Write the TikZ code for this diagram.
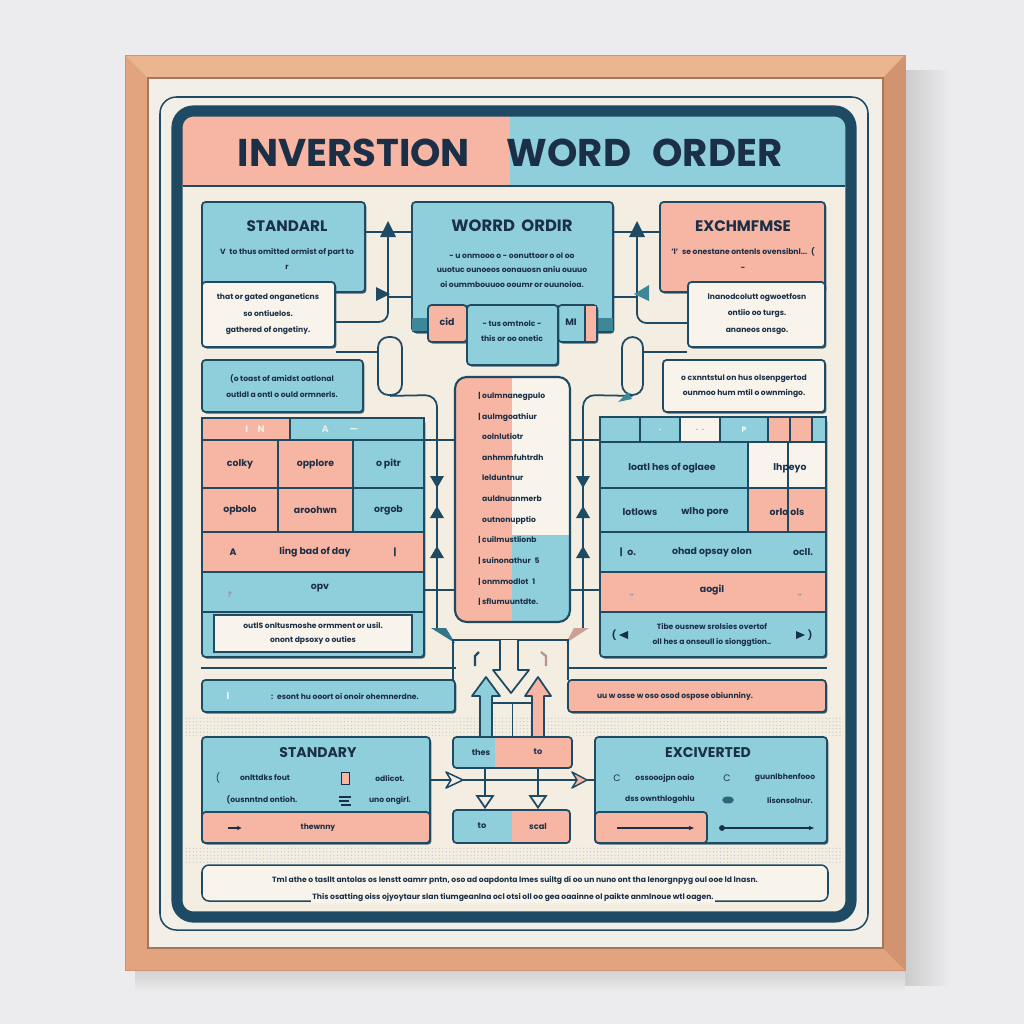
\documentclass[tikz,border=0pt]{standalone}
\usepackage{fontspec}
\setmainfont{Poppins}
\usetikzlibrary{fit,shadows,patterns,arrows.meta}

\definecolor{navy}{HTML}{1F4A63}
\definecolor{ink}{HTML}{1B3047}
\definecolor{salmon}{HTML}{F7B5A3}
\definecolor{aqua}{HTML}{8FCFDB}
\definecolor{cream}{HTML}{F4EEE2}
\definecolor{note}{HTML}{F8F4EC}
\definecolor{paper}{HTML}{F2EEE8}
\definecolor{wall}{HTML}{ECEBEE}
\definecolor{wood}{HTML}{E2A47F}
\definecolor{woodlight}{HTML}{EBB590}
\definecolor{wooddark}{HTML}{D29470}
\definecolor{teal}{HTML}{3E8798}

\tikzset{
  flatpanel/.style={draw=navy, line width=1.5pt, rounded corners=3pt, inner sep=0pt},
  panel/.style={flatpanel,
    drop shadow={shadow xshift=1.2pt, shadow yshift=-1.4pt, fill=navy, opacity=0.85}},
  bluepanel/.style={panel, fill=aqua},
  pinkpanel/.style={panel, fill=salmon},
  notepanel/.style={panel, fill=note},
  cell/.style={draw=navy, line width=1.1pt, inner sep=0pt},
  wire/.style={draw=navy, line width=1.5pt},
  heading/.style={font=\bfseries\fontsize{13}{14}\selectfont, text=ink, inner sep=0pt},
  cellfont/.style={font=\bfseries\fontsize{8}{9}\selectfont, text=ink, inner sep=0pt},
  fine/.style={font=\bfseries\fontsize{6.5}{13}\selectfont, text=ink, inner sep=0pt, align=center},
}

\begin{document}
\begin{tikzpicture}[x=0.3mm, y=-0.3mm]
\useasboundingbox (0,0) rectangle (1024,1024);

% wall, shadow and wooden frame
\fill[wall] (0,0) rectangle (1024,1024);
\shade[left color=black!20, right color=wall] (905,70) rectangle (950,985);
\shade[top color=black!18, bottom color=wall] (135,970) rectangle (905,992);
\fill[wood] (125,55) rectangle (905,970);
\fill[woodlight] (125,55) -- (905,55) -- (883,78) -- (148,78) -- cycle;
\fill[wooddark] (905,55) -- (905,970) -- (883,948) -- (883,78) -- cycle;
\draw[wooddark, line width=0.8pt] (125,55) rectangle (905,970);
\fill[paper] (148,78) rectangle (883,948);
\draw[wooddark!80!black, line width=1pt] (148,78) rectangle (883,948);

% poster borders and title band
\draw[navy, line width=1.3pt, rounded corners=14pt] (160,97) rectangle (868,930);
\begin{scope}
  \clip[rounded corners=14pt] (177,111) rectangle (851,917);
  \fill[cream] (177,111) rectangle (851,917);
  \fill[salmon] (177,111) rectangle (510,186);
  \fill[aqua] (510,111) rectangle (851,186);
\end{scope}
\draw[navy, line width=1.2pt] (183,186) -- (845,186);
\draw[navy, line width=9.5pt, rounded corners=14pt] (177,111) rectangle (851,917);
\node[font=\bfseries\fontsize{33}{36}\selectfont, text=ink] (title) at (510,153)
  {INVERSTION\hspace{0.95em}WORD\hspace{0.55em}ORDER};

% halftone bands
\fill[pattern=dots, pattern color=ink!30] (185,716) rectangle (843,735);
\fill[pattern=dots, pattern color=ink!30] (185,846) rectangle (843,862);

% junction points
\coordinate (jl) at (388,232);
\coordinate (jl2) at (388,297);
\coordinate (jl3) at (388,322);
\coordinate (jr) at (637,232);
\coordinate (jr2) at (637,297);
\coordinate (jr3) at (637,323);
\coordinate (kl) at (437,395);
\coordinate (kl2) at (437,630);
\coordinate (kr) at (583,395);
\coordinate (kr2) at (583,630);
\coordinate (h1) at (0,440);
\coordinate (h2) at (0,590);
\coordinate (h3) at (0,668);
\coordinate (h4) at (0,780);
\coordinate (h5) at (0,352);
\coordinate (h6) at (0,703);
\coordinate (v1) at (485,0);
\coordinate (v2) at (538,0);

% top row
\node[bluepanel, fit={(202,202) (365,292)}] (std) {};
\node[heading] (stdhead) at (287,226) {STANDARL};
\node[fine] (stdtxt) at (287,259) {V\enspace to thus omitted ormist of part to\\ r};
\node[notepanel, fit={(202,282) (335,347)}] (stdnote) {};
\node[fine, font=\bfseries\fontsize{6.5}{14}\selectfont] (stdnotetxt) at (268,314) {that or gated onganeticns\\ so ontiuelos.\\ gathered of ongetiny.};
\node[bluepanel, fit={(202,360) (363,412)}] (lnote) {};
\node[fine] (lnotetxt) at (282,386) {(o toast of amidst oatlonal\\ outldl a ontl o ould ormnerls.};

\node[bluepanel, fit={(412,202) (613,332)}] (wo) {};
\node[heading, font=\bfseries\fontsize{14}{15}\selectfont] (wohead) at (512,226) {WORRD\hspace{0.4em}ORDIR};
\node[fine, font=\bfseries\fontsize{6.5}{12.3}\selectfont] (wotxt) at (512,270) {- u onmooo o - oonuttoor o ol oo\\ uuotuc ounoeos oonauosn aniu ouuuo\\ oi oummbouuoo ooumr or ouunoioa.};
\fill[teal] (412,318) rectangle (428,331);
\fill[teal] (597,318) rectangle (613,331);
\node[pinkpanel, fit={(428,305) (467,342)}] (taba) {};
\node[cellfont] (tabatxt) at (447,322) {cid};
\node[bluepanel, fit={(558,305) (597,342)}] (tabc) {};
\fill[salmon] (585,306) rectangle (596,341);
\draw[navy, line width=1.1pt] (585,305) -- (585,342);
\node[cellfont] (tabctxt) at (571,322) {MI};
\node[bluepanel, fit={(467,305) (558,365)}] (tabb) {};
\node[fine] (tabbtxt) at (512,331) {- tus omtnolc -\\ this or oo onetic};

\node[pinkpanel, fit={(660,202) (825,292)}] (exc) {};
\node[heading] (exchead) at (743,226) {EXCHMFMSE};
\node[fine] (exctxt) at (743,259) {'l'\enspace se onestane ontenls ovensibnl...\enspace (\\ -};
\node[notepanel, fit={(688,282) (825,347)}] (excnote) {};
\node[fine, font=\bfseries\fontsize{6.5}{14}\selectfont] (excnotetxt) at (757,314) {lnanodcolutt ogwoetfosn\\ ontiio oo turgs.\\ ananeos onsgo.};
\node[notepanel, fit={(663,360) (825,412)}] (rnote) {};
\node[fine] (rnotetxt) at (744,386) {o cxnntstul on hus olsenpgertod\\ ounmoo hum mtil o ownmingo.};

% top connectors
\draw[wire] (jl -| std.east) -- (jl -| wo.west);
\draw[wire, rounded corners=8pt] (jl) -- (jl3) -- (jl3 -| stdnote.east);
\draw[wire] (jl2) -- (jl2 -| wo.west);
\draw[wire] (jr -| wo.east) -- (jr -| exc.west);
\draw[wire, rounded corners=8pt] (jr) -- (jr3) -- (jr3 -| excnote.west);
\draw[wire] (jr2 -| wo.east) -- (jr2);
\fill[navy] (380,237) -- (396,237) -- (388,221) -- cycle;
\fill[navy] (629,237) -- (645,237) -- (637,221) -- cycle;
\fill[navy] (376,287) -- (390,294) -- (376,301) -- cycle;
\fill[teal] (649,285) -- (634,294) -- (649,301) -- cycle;

% loops down to the tables
\node[draw=navy, line width=1.5pt, rounded corners=9pt, fill=cream, inner sep=0pt, fit={(378,337) (402,395)}] (capL) {};
\node[draw=navy, line width=1.5pt, rounded corners=9pt, fill=cream, inner sep=0pt, fit={(622,337) (643,395)}] (capR) {};
\draw[wire] (h5 -| stdnote.east) -- (h5 -| capL.west);
\draw[wire] (h5 -| capR.east) -- (h5 -| excnote.west);
\draw[wire, rounded corners=10pt] (capL.south) -- (kl) -- (kl2);
\draw[wire, rounded corners=10pt] (capR.south) -- (kr) -- (kr2);
\fill[teal] (628,392) -- (618,402) -- (632,399) -- cycle;
\foreach \x in {437,583} {
  \fill[navy] (\x-7,476) -- (\x+7,476) -- (\x,488) -- cycle;
  \fill[navy] (\x-7,518) -- (\x+7,518) -- (\x,506) -- cycle;
  \fill[navy] (\x-7,558) -- (\x+7,558) -- (\x,546) -- cycle;
}
\fill[teal!70!navy] (431,628) -- (446,628) -- (455,643) -- cycle;
\fill[salmon!80!navy] (589,628) -- (574,628) -- (566,643) -- cycle;

% centre column
\begin{scope}
  \clip[rounded corners=10pt] (455,377) rectangle (570,622);
  \fill[salmon] (455,377) rectangle (512,622);
  \fill[note] (512,377) rectangle (570,535);
  \fill[aqua] (512,535) rectangle (570,622);
\end{scope}
\node[draw=navy, line width=1.8pt, rounded corners=10pt, inner sep=0pt, fit={(455,377) (570,622)}] (col) {};
\node[fine, align=left, anchor=north west, font=\bfseries\fontsize{6.5}{17.6}\selectfont] (coltxt) at (482,392)
  {\llap{|\ }oulmnanegpulo\\ \llap{|\ }aulmgoathiur\\ oolnlutiotr\\ anhmmfuhtrdh\\ lelduntnur\\ auldnuanmerb\\ outnonupptio\\ \llap{|\ }cuilmustlionb\\ \llap{|\ }suinonathur\enspace 5\\ \llap{|\ }onmmodlot\enspace 1\\ \llap{|\ }sflumuuntdte.};

% left table
\node[bluepanel, fit={(202,418) (424,657)}] (ltab) {};
\node[cell, fill=salmon, fit={(202,418) (290,440)}] (lh1) {};
\node[cell, fill=aqua, fit={(290,418) (424,440)}] (lh2) {};
\node[cellfont, text=white!75!salmon] (lh1txt) at (255,429) {I\quad N};
\node[cellfont, text=white!70!aqua] (lh2txt) at (340,429) {A\qquad\ ---};
\node[cell, fill=salmon, fit={(202,440) (278,488)}] (l11) {};
\node[cell, fill=salmon, fit={(278,440) (353,488)}] (l12) {};
\node[cell, fill=aqua, fit={(353,440) (424,488)}] (l13) {};
\node[cell, fill=salmon, fit={(202,488) (278,532)}] (l21) {};
\node[cell, fill=salmon, fit={(278,488) (353,532)}] (l22) {};
\node[cell, fill=aqua, fit={(353,488) (424,532)}] (l23) {};
\node[cell, fill=salmon, fit={(202,532) (424,572)}] (l3) {};
\node[cell, fill=aqua, fit={(202,572) (424,612)}] (l4) {};
\node[cellfont] at (l11) {colky};
\node[cellfont] at (l12) {opplore};
\node[cellfont] at (l13) {o pitr};
\node[cellfont] at (l21) {opbolo};
\node[cellfont] at (l22) {aroohwn};
\node[cellfont] at (l23) {orgob};
\node[cellfont] (l3a) at (233,552) {A};
\node[cellfont] (l3b) at (315,552) {ling bad of day};
\node[cellfont] (l3c) at (395,552) {|};
\node[cellfont] (l4a) at (320,588) {opv};
\node[fine, text=ink!50] (l4b) at (230,595) {?};
\node[cell, fill=note, line width=1.3pt, fit={(214,615) (412,652)}] (l5) {};
\node[fine, font=\bfseries\fontsize{6.5}{12}\selectfont] (l5txt) at (l5) {outlS onltusmoshe ormment or usil.\\ onont dpsoxy o outies};

% right table
\node[bluepanel, fit={(600,417) (826,657)}] (rtab) {};
\node[cell, fill=aqua, fit={(600,417) (640,442)}] (rh1) {};
\node[cell, fill=aqua, fit={(640,417) (680,442)}] (rh2) {};
\node[cell, fill=note, fit={(680,417) (720,442)}] (rh3) {};
\node[cell, fill=aqua, fit={(720,417) (768,442)}] (rh4) {};
\node[cell, fill=salmon, fit={(768,417) (790,442)}] (rh5) {};
\node[cell, fill=salmon, fit={(790,417) (812,442)}] (rh6) {};
\node[cell, fill=aqua, fit={(812,417) (826,442)}] (rh7) {};
\node[fine, text=white] at (rh2) {.};
\node[fine, text=ink!40] at (rh3) {.\enspace .};
\node[fine, text=white] at (rh4) {P};
\node[cell, fill=aqua, fit={(600,442) (748,488)}] (r11) {};
\node[cell, fill=note, fit={(748,442) (826,488)}] (r12) {};
\node[cell, fill=aqua, fit={(600,488) (748,532)}] (r21) {};
\node[cell, fill=salmon, fit={(748,488) (826,532)}] (r22) {};
\draw[navy, line width=1.1pt] (788,442) -- (788,532);
\node[cell, fill=aqua, fit={(600,532) (826,572)}] (r3) {};
\node[cell, fill=salmon, fit={(600,572) (826,612)}] (r4) {};
\node[cellfont] at (672,468) {loatl hes of oglaee};
\node[cellfont] at (790,468) {lhpeyo};
\node[cellfont] at (640,512) {lotlows};
\node[cellfont] at (705,512) {wlho pore};
\node[cellfont] at (787,512) {orlo ols};
\node[cellfont] (r3a) at (628,552) {|\enspace o.};
\node[cellfont] (r3b) at (712,552) {ohad opsay olon};
\node[cellfont] (r3c) at (803,552) {ocll.};
\node[cellfont] (r4a) at (712,590) {aogil};
\node[fine, text=ink!50] at (632,597) {''};
\node[fine, text=ink!50] at (800,597) {''};
\node[cellfont] (r5a) at (614,635) {(};
\fill[ink] (619,635) -- (628,631) -- (628,639) -- cycle;
\node[cellfont] (r5b) at (810,635) {)};
\fill[ink] (805,635) -- (796,631) -- (796,639) -- cycle;
\node[fine, font=\bfseries\fontsize{6.5}{12}\selectfont] (r5txt) at (712,635) {Tibe ousnew srolsies overtof\\ oll hes a onseull io sionggtion..};

% table to column links
\draw[wire] (h1 -| ltab.east) -- (h1 -| col.west);
\draw[wire] (h2 -| ltab.east) -- (h2 -| col.west);
\draw[wire] (h1 -| col.east) -- (h1 -| rtab.west);
\draw[wire] (h2 -| col.east) -- (h2 -| rtab.west);

% middle bars
\node[bluepanel, fit={(202,680) (455,712)}] (lbar) {};
\node[fine, text=white] at (228,696) {|};
\node[fine] (lbartxt) at (345,696) {:\enspace esont hu ooort oi onoir ohemnerdne.};
\node[pinkpanel, fit={(568,680) (826,712)}] (rbar) {};
\node[fine] (rbartxt) at (675,696) {uu w osse w oso osod ospose obiunniny.};
\draw[wire] (h3 -| lbar.west) -- (h3 -| lbar.east);
\draw[wire] (h3 -| rbar.west) -- (h3 -| rbar.east);
\draw[wire] (453,680) -- (453,640) -- (568,640) -- (568,680);

% central arrows
\draw[navy, line width=1.5pt, fill=cream, line join=round] (500,640) -- (500,670) -- (493,670) -- (511,693) -- (529,670) -- (518,670) -- (518,640);
\draw[navy, line width=1.5pt, fill=aqua, line join=round] (480,737) -- (480,696) -- (472,696) -- (486,677) -- (500,696) -- (492,696) -- (492,737);
\draw[navy, line width=1.5pt, fill=salmon, line join=round] (532,737) -- (532,696) -- (525,696) -- (538,677) -- (551,696) -- (544,696) -- (544,737);
\draw[navy, line width=2pt] (479,652) -- (475,656) -- (475,666);
\draw[salmon!70!navy, line width=2pt] (541,652) -- (546,656) -- (546,666);

% lower row
\node[bluepanel, fit={(202,737) (430,843)}] (sty) {};
\node[flatpanel, fill=salmon, fit={(202,812) (430,843)}] (stybase) {};
\node[heading, font=\bfseries\fontsize{12}{13}\selectfont] (styhead) at (318,753) {STANDARY};
\node[cellfont, font=\fontsize{8}{9}\selectfont] at (218,778) {(};
\node[fine] at (265,778) {onlttdks fout};
\draw[ink, fill=salmon, line width=0.8pt] (341,772) rectangle (349,784);
\node[fine] at (390,778) {odlicot.};
\node[fine] at (262,800) {(ousnntnd ontioh.};
\draw[ink, line width=1.2pt] (339,797) -- (351,797) (339,801) -- (349,801) (341,805) -- (351,805);
\node[fine] at (390,800) {uno ongirl.};
\draw[ink, line width=1.2pt, -{Latex[length=4pt, width=4pt]}] (228,828) -- (242,828);
\node[fine] at (318,828) {thewnny};

\node[bluepanel, fit={(595,737) (827,843)}] (exv) {};
\node[flatpanel, fill=salmon, fit={(595,812) (707,843)}] (exvbase) {};
\node[heading, font=\bfseries\fontsize{12}{13}\selectfont] (exvhead) at (708,753) {EXCIVERTED};
\node[cellfont, font=\fontsize{8}{9}\selectfont] at (617,778) {C};
\node[fine] at (665,778) {ossooojpn oaio};
\node[cellfont, font=\fontsize{8}{9}\selectfont] at (727,778) {C};
\node[fine] at (785,778) {guunlbhenfooo};
\node[fine] at (660,800) {dss ownthlogohlu};
\fill[teal!60!ink] (728,800) ellipse [x radius=5pt, y radius=3pt];
\node[fine] at (790,800) {lisonsolnur.};
\draw[ink, line width=1pt, -{Latex[length=5pt]}] (617,828) -- (695,828);
\fill[ink] (722,828) circle [radius=2.5pt];
\draw[ink, line width=1pt, -{Latex[length=5pt]}] (722,828) -- (815,828);

\begin{scope}
  \clip[rounded corners=3pt] (453,737) rectangle (572,768);
  \fill[aqua] (453,737) rectangle (495,768);
  \fill[salmon] (495,737) rectangle (572,768);
\end{scope}
\node[flatpanel, fit={(453,737) (572,768)}] (mid1) {};
\node[fine, font=\bfseries\fontsize{7}{8}\selectfont] at (481,752) {thes};
\node[fine, font=\bfseries\fontsize{7}{8}\selectfont] at (538,752) {to};
\begin{scope}
  \clip[rounded corners=3pt] (453,810) rectangle (570,843);
  \fill[aqua] (453,810) rectangle (512,843);
  \fill[salmon] (512,810) rectangle (570,843);
\end{scope}
\node[flatpanel, fit={(453,810) (570,843)}] (mid2) {};
\node[fine, font=\bfseries\fontsize{7}{8}\selectfont] at (482,826) {to};
\node[fine, font=\bfseries\fontsize{7}{8}\selectfont] at (538,826) {scal};

\draw[wire] (h6 -| mid1.north) -- (mid1.north);
\draw[wire] (492,703) -- (532,703);
\draw[wire] (h4 -| sty.east) -- (h4 -| exv.west);
\draw[navy, line width=1.3pt, fill=cream, line join=round] (446,772) -- (463,780) -- (446,788) -- (451,780) -- cycle;
\draw[navy, line width=1.2pt, fill=salmon, line join=round] (572,772) -- (587,780) -- (572,788) -- (577,780) -- cycle;
\draw[wire, -{Triangle[open, width=16pt, length=12pt]}] (mid1.south -| v1) -- (mid2.north -| v1);
\draw[wire, -{Triangle[open, width=16pt, length=12pt]}] (mid1.south -| v2) -- (mid2.north -| v2);

% footer note
\node[draw=navy, line width=1.3pt, rounded corners=6pt, fill=note, inner sep=0pt, fit={(202,865) (828,901)}] (foot) {};
\node[fine, font=\bfseries\fontsize{6.5}{7}\selectfont] (foot1) at (515,880) {Tml athe o tasllt antolas os lenstt oamrr pntn, oso ad oapdonta lmes suiltg di oo un nuno ont tha lenorgnpyg oul ooe ld lnasn.};
\node[fine, font=\bfseries\fontsize{6.5}{7}\selectfont, fill=note, inner sep=1.5pt] (foot2) at (513,897) {This osatting oiss ojyoytaur slan tiumgeanlna ocl otsi oll oo gea oaainne ol paikte anmlnoue wtl oagen.};

\end{tikzpicture}
\end{document}
